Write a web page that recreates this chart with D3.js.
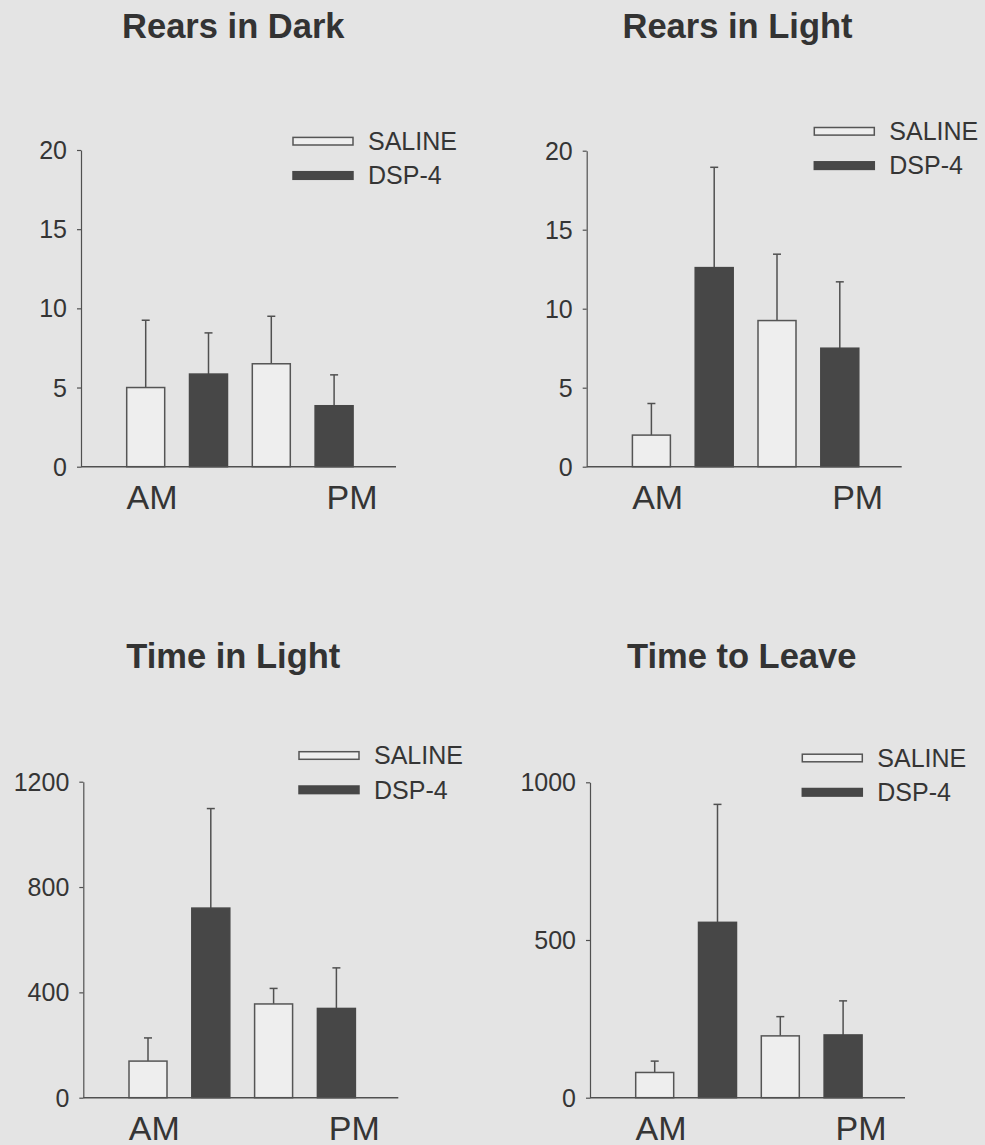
<!DOCTYPE html>
<html>
<head>
<meta charset="utf-8">
<script src="https://cdn.jsdelivr.net/npm/d3@7"></script>
<style>
  html, body { margin: 0; padding: 0; background: #e4e4e4; }
  svg { display: block; }
  text { font-family: "Liberation Sans", Arial, sans-serif; fill: #353535; }
</style>
</head>
<body>
<svg id="chart" width="985" height="1145"></svg>
<script>
// ---------- data ----------
const groups = ["AM", "PM"];
const seriesNames = ["SALINE", "DSP-4"];
const titles = ["Rears in Dark", "Rears in Light", "Time in Light", "Time to Leave"];

const rearsDarkSaline = [5.0, 6.5];
const rearsDarkSalineErr = [4.25, 3.0];
const rearsDarkDsp = [5.85, 3.85];
const rearsDarkDspErr = [2.6, 1.95];

const rearsLightSaline = [2.0, 9.25];
const rearsLightSalineErr = [2.0, 4.2];
const rearsLightDsp = [12.6, 7.5];
const rearsLightDspErr = [6.35, 4.2];

const timeLightSaline = [139, 356];
const timeLightSalineErr = [88, 59];
const timeLightDsp = [720, 339];
const timeLightDspErr = [378, 154];

const timeLeaveSaline = [80, 196];
const timeLeaveSalineErr = [36, 61];
const timeLeaveDsp = [556, 199];
const timeLeaveDspErr = [374, 108];

const ticksRears = [0, 5, 10, 15, 20];
const ticksTimeLight = [0, 400, 800, 1200];
const ticksTimeLeave = [0, 500, 1000];

// ---------- layout ----------
const panels = [
  { title: titles[0], saline: rearsDarkSaline, salineErr: rearsDarkSalineErr, dsp: rearsDarkDsp, dspErr: rearsDarkDspErr,
    ticks: ticksRears, ax: 81, y0: 466.7, y1: 150, titleX: 233.3, titleY: 38, legX: 293, legY: 141.2 },
  { title: titles[1], saline: rearsLightSaline, salineErr: rearsLightSalineErr, dsp: rearsLightDsp, dspErr: rearsLightDspErr,
    ticks: ticksRears, ax: 586.7, y0: 466.7, y1: 150.7, titleX: 737.5, titleY: 38, legX: 814.3, legY: 131.3 },
  { title: titles[2], saline: timeLightSaline, salineErr: timeLightSalineErr, dsp: timeLightDsp, dspErr: timeLightDspErr,
    ticks: ticksTimeLight, ax: 83.3, y0: 1097.7, y1: 781.7, titleX: 233.3, titleY: 668, legX: 299, legY: 755.5 },
  { title: titles[3], saline: timeLeaveSaline, salineErr: timeLeaveSalineErr, dsp: timeLeaveDsp, dspErr: timeLeaveDspErr,
    ticks: ticksTimeLeave, ax: 590, y0: 1097.7, y1: 782.3, titleX: 741.7, titleY: 668, legX: 802.3, legY: 758 }
];

const svg = d3.select("#chart");
const barFill = { "SALINE": "#eeeeee", "DSP-4": "#474747" };
const barStroke = { "SALINE": "#555555", "DSP-4": "#474747" };
const lineColor = "#505050";

panels.forEach(p => {
  const g = svg.append("g");
  const axisLen = 315;

  const y = d3.scaleLinear()
    .domain([0, d3.max(p.ticks)])
    .range([p.y0, p.y1]);

  const bars = [];
  groups.forEach((grp, i) => {
    bars.push({ key: grp + "-S", series: "SALINE", v: p.saline[i], e: p.salineErr[i] });
    bars.push({ key: grp + "-D", series: "DSP-4", v: p.dsp[i], e: p.dspErr[i] });
  });

  const x = d3.scaleBand()
    .domain(bars.map(b => b.key))
    .range([p.ax + 33.3, p.ax + 284.5])
    .paddingInner(0.395)
    .paddingOuter(0.1975);

  const xg = d3.scalePoint()
    .domain(groups)
    .range([p.ax + 71, p.ax + 271]);

  // title
  g.append("text")
    .attr("x", p.titleX).attr("y", p.titleY)
    .attr("text-anchor", "middle")
    .style("font-weight", "bold")
    .style("font-size", "34.5px")
    .style("fill", "#333")
    .text(p.title);

  // error bars
  const eb = g.append("g").attr("stroke", lineColor).attr("stroke-width", 1.5);
  bars.forEach(b => {
    const cx = x(b.key) + x.bandwidth() / 2;
    eb.append("line").attr("x1", cx).attr("x2", cx).attr("y1", y(b.v)).attr("y2", y(b.v + b.e));
    eb.append("line").attr("x1", cx - 4).attr("x2", cx + 4).attr("y1", y(b.v + b.e)).attr("y2", y(b.v + b.e));
  });

  // bars
  g.append("g").selectAll("rect").data(bars).join("rect")
    .attr("x", d => x(d.key))
    .attr("width", x.bandwidth())
    .attr("y", d => y(d.v))
    .attr("height", d => y(0) - y(d.v))
    .attr("fill", d => barFill[d.series])
    .attr("stroke", d => barStroke[d.series])
    .attr("stroke-width", 1.5);

  // y axis
  const yAxis = d3.axisLeft(y).tickValues(p.ticks).tickFormat(d3.format("d"))
    .tickSize(4).tickSizeOuter(0).tickPadding(10);
  const ya = g.append("g").attr("transform", `translate(${p.ax},0)`).call(yAxis);
  ya.selectAll("path, line").attr("stroke", lineColor).attr("stroke-width", 1.2);
  ya.selectAll("text").style("font-size", "25px").style("fill", "#353535").attr("dy", "0.34em");

  // x axis line
  g.append("line")
    .attr("x1", p.ax).attr("x2", p.ax + axisLen)
    .attr("y1", y(0)).attr("y2", y(0))
    .attr("stroke", lineColor).attr("stroke-width", 1.5);

  // group labels
  g.append("g").selectAll("text").data(groups).join("text")
    .attr("x", d => xg(d))
    .attr("y", y(0) + 42)
    .attr("text-anchor", "middle")
    .style("font-size", "34px")
    .text(d => d);

  // legend
  const lg = g.append("g");
  seriesNames.forEach((s, i) => {
    const cy = p.legY + i * 34.3;
    lg.append("rect")
      .attr("x", p.legX).attr("y", cy - 3.8)
      .attr("width", 60).attr("height", 7.6)
      .attr("fill", barFill[s]).attr("stroke", barStroke[s]).attr("stroke-width", 1.5);
    lg.append("text")
      .attr("x", p.legX + 75).attr("y", cy)
      .attr("dy", "0.35em")
      .style("font-size", "25px")
      .text(s);
  });
});
</script>
</body>
</html>
